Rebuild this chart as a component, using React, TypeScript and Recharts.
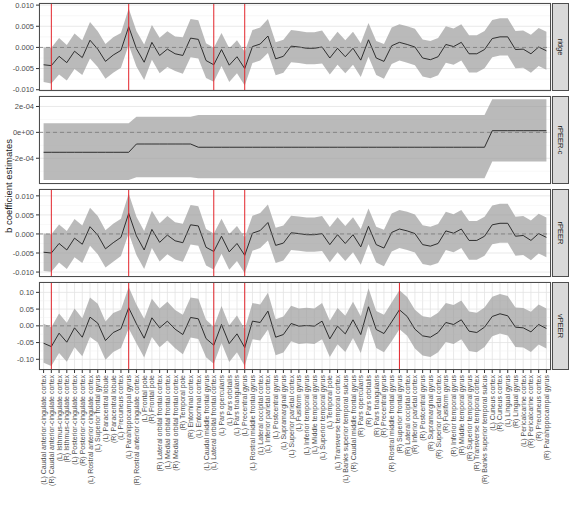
import {
  ComposedChart,
  Area,
  Line,
  XAxis,
  YAxis,
  CartesianGrid,
  ReferenceLine,
} from "recharts";

const FONT = "'Liberation Sans', Arial, Helvetica, sans-serif";
const W = 574;
const H = 506;
const PLOT_L = 39;
const PLOT_R = 551;
const PANEL_H = 88;

// Desikan regions in plotting order
const regions = [
  "(L) Caudal anterior-cingulate cortex",
  "(R) Caudal anterior-cingulate cortex",
  "(L) Isthmus-cingulate cortex",
  "(R) Isthmus-cingulate cortex",
  "(L) Posterior-cingulate cortex",
  "(R) Posterior-cingulate cortex",
  "(L) Rostral anterior cingulate cortex",
  "(L) Superior frontal gyrus",
  "(L) Paracentral lobule",
  "(R) Paracentral lobule",
  "(L) Precuneus cortex",
  "(L) Parahippocampal gyrus",
  "(R) Rostral anterior cingulate cortex",
  "(L) Frontal pole",
  "(R) Frontal pole",
  "(R) Lateral orbital frontal cortex",
  "(L) Medial orbital frontal cortex",
  "(R) Medial orbital frontal cortex",
  "(R) Temporal pole",
  "(R) Entorhinal cortex",
  "(L) Entorhinal cortex",
  "(L) Caudal middle frontal gyrus",
  "(L) Lateral orbital frontal cortex",
  "(L) Pars opercularis",
  "(L) Pars orbitalis",
  "(L) Pars triangularis",
  "(L) Precentral gyrus",
  "(L) Rostral middle frontal gyrus",
  "(L) Lateral occipital cortex",
  "(L) Inferior parietal cortex",
  "(L) Postcentral gyrus",
  "(L) Supramarginal gyrus",
  "(L) Superior parietal cortex",
  "(L) Fusiform gyrus",
  "(L) Inferior temporal gyrus",
  "(L) Middle temporal gyrus",
  "(L) Superior temporal gyrus",
  "(L) Temporal pole",
  "(L) Transverse temporal cortex",
  "(L) Banks superior temporal sulcus",
  "(R) Caudal middle frontal gyrus",
  "(R) Pars opercularis",
  "(R) Pars orbitalis",
  "(R) Pars triangularis",
  "(R) Precentral gyrus",
  "(R) Rostral middle frontal gyrus",
  "(R) Superior frontal gyrus",
  "(R) Lateral occipital cortex",
  "(R) Inferior parietal cortex",
  "(R) Postcentral gyrus",
  "(R) Supramarginal gyrus",
  "(R) Superior parietal cortex",
  "(R) Fusiform gyrus",
  "(R) Inferior temporal gyrus",
  "(R) Middle temporal gyrus",
  "(R) Superior temporal gyrus",
  "(R) Transverse temporal cortex",
  "(R) Banks superior temporal sulcus",
  "(L) Cuneus cortex",
  "(R) Cuneus cortex",
  "(L) Lingual gyrus",
  "(R) Lingual gyrus",
  "(L) Pericalcarine cortex",
  "(R) Pericalcarine cortex",
  "(R) Precuneus cortex",
  "(R) Parahippocampal gyrus",
];

// ridge: estimate and half-width of the interval
const ridgeEst = [
  -0.0041, -0.0043, -0.0021, -0.0036, -0.0009, -0.0024, 0.0017, -0.0004, -0.0033, -0.0018,
  -0.0007, 0.0049, -0.0003, -0.0035, 0.0012, -0.0019, -0.0004, -0.0015, -0.0019, 0.0022,
  0.0019, -0.0031, -0.0041, -0.0005, -0.0042, -0.0022, -0.005, 0.0002, 0.0008, 0.0027,
  -0.0027, -0.0021, 0.0003, 0.0001, -0.0002, -0.0002, 0.0001, -0.0025, -0.0002, -0.0022,
  -0.0002, -0.003, 0.0018, -0.0025, -0.0033, 0.0004, 0.0012, 0.0007, 0.0001, -0.0025,
  -0.0029, -0.0022, 0.0007, 0.0002, 0.0012, -0.0015, -0.0015, -0.0005, 0.0021, 0.0025,
  0.0025, -0.0005, -0.0004, -0.0015, 0.0001, -0.0008,
];
const ridgeHalf = [
  0.0041, 0.0042, 0.0043, 0.0042, 0.0042, 0.0041, 0.0043, 0.0042, 0.0041, 0.0042,
  0.0041, 0.0043, 0.0042, 0.0042, 0.0041, 0.0042, 0.0042, 0.0041, 0.0043, 0.0045,
  0.0045, 0.0041, 0.004, 0.0039, 0.004, 0.0039, 0.004, 0.0039, 0.0039, 0.004,
  0.0039, 0.0039, 0.0038, 0.0038, 0.0038, 0.0038, 0.0039, 0.0039, 0.0039, 0.0039,
  0.0039, 0.004, 0.004, 0.004, 0.0041, 0.0043, 0.0043, 0.0043, 0.0043, 0.0044,
  0.0044, 0.0044, 0.0043, 0.0043, 0.0043, 0.0044, 0.0044, 0.0044, 0.0044, 0.0044,
  0.0044, 0.0044, 0.0044, 0.0045, 0.0045, 0.0045,
];

// rPEER-c: piecewise estimate with lower / upper interval bounds
const rpeercEst = [
  -1.54e-4, -1.54e-4, -1.54e-4, -1.54e-4, -1.54e-4, -1.54e-4, -1.54e-4, -1.54e-4, -1.54e-4, -1.54e-4,
  -1.54e-4, -1.54e-4, -0.9e-4, -0.9e-4, -0.9e-4, -0.9e-4, -0.9e-4, -0.9e-4, -0.9e-4, -0.9e-4,
  -1.15e-4, -1.15e-4, -1.15e-4, -1.15e-4, -1.15e-4, -1.15e-4, -1.15e-4, -1.15e-4, -1.15e-4, -1.15e-4,
  -1.15e-4, -1.15e-4, -1.15e-4, -1.15e-4, -1.15e-4, -1.15e-4, -1.15e-4, -1.15e-4, -1.15e-4, -1.15e-4,
  -1.15e-4, -1.15e-4, -1.15e-4, -1.15e-4, -1.15e-4, -1.15e-4, -1.15e-4, -1.15e-4, -1.15e-4, -1.15e-4,
  -1.15e-4, -1.15e-4, -1.15e-4, -1.15e-4, -1.15e-4, -1.15e-4, -1.15e-4, -1.15e-4, 0.13e-4, 0.13e-4,
  0.13e-4, 0.13e-4, 0.13e-4, 0.13e-4, 0.13e-4, 0.13e-4,
];
const rpeercLo = [
  -3.68e-4, -3.68e-4, -3.68e-4, -3.68e-4, -3.68e-4, -3.68e-4, -3.68e-4, -3.68e-4, -3.68e-4, -3.68e-4,
  -3.68e-4, -3.68e-4, -3.47e-4, -3.47e-4, -3.47e-4, -3.47e-4, -3.47e-4, -3.47e-4, -3.47e-4, -3.47e-4,
  -3.55e-4, -3.55e-4, -3.55e-4, -3.55e-4, -3.55e-4, -3.55e-4, -3.55e-4, -3.55e-4, -3.55e-4, -3.55e-4,
  -3.55e-4, -3.55e-4, -3.55e-4, -3.55e-4, -3.55e-4, -3.55e-4, -3.55e-4, -3.55e-4, -3.55e-4, -3.55e-4,
  -3.55e-4, -3.55e-4, -3.55e-4, -3.55e-4, -3.55e-4, -3.55e-4, -3.55e-4, -3.55e-4, -3.55e-4, -3.55e-4,
  -3.55e-4, -3.55e-4, -3.55e-4, -3.55e-4, -3.55e-4, -3.55e-4, -3.55e-4, -3.55e-4, -2.26e-4, -2.26e-4,
  -2.26e-4, -2.26e-4, -2.26e-4, -2.26e-4, -2.26e-4, -2.26e-4,
];
const rpeercHi = [
  0.7e-4, 0.7e-4, 0.7e-4, 0.7e-4, 0.7e-4, 0.7e-4, 0.7e-4, 0.7e-4, 0.7e-4, 0.7e-4,
  0.7e-4, 0.7e-4, 1.21e-4, 1.21e-4, 1.21e-4, 1.21e-4, 1.21e-4, 1.21e-4, 1.21e-4, 1.21e-4,
  1.34e-4, 1.34e-4, 1.34e-4, 1.34e-4, 1.34e-4, 1.34e-4, 1.34e-4, 1.34e-4, 1.34e-4, 1.34e-4,
  1.34e-4, 1.34e-4, 1.34e-4, 1.34e-4, 1.34e-4, 1.34e-4, 1.34e-4, 1.34e-4, 1.34e-4, 1.34e-4,
  1.34e-4, 1.34e-4, 1.34e-4, 1.34e-4, 1.34e-4, 1.34e-4, 1.34e-4, 1.34e-4, 1.34e-4, 1.34e-4,
  1.34e-4, 1.34e-4, 1.34e-4, 1.34e-4, 1.34e-4, 1.34e-4, 1.34e-4, 1.34e-4, 2.56e-4, 2.56e-4,
  2.56e-4, 2.56e-4, 2.56e-4, 2.56e-4, 2.56e-4, 2.56e-4,
];

// rPEER
const rpeerEst = [
  -0.0048, -0.005, -0.0025, -0.0042, -0.0011, -0.0027, 0.0019, -0.0003, -0.0039, -0.0023,
  -0.0009, 0.0054, -0.0005, -0.0042, 0.0012, -0.0022, -0.0003, -0.0018, -0.0023, 0.0024,
  0.0021, -0.0035, -0.0046, -0.0006, -0.0047, -0.0025, -0.0056, 0.0002, 0.0009, 0.003,
  -0.003, -0.0024, 0.0003, 0.0001, -0.0002, -0.0002, 0.0001, -0.0028, -0.0002, -0.0025,
  -0.0002, -0.0034, 0.002, -0.0028, -0.0037, 0.0004, 0.0013, 0.0008, 0.0001, -0.0028,
  -0.0032, -0.0025, 0.0008, 0.0002, 0.0013, -0.0017, -0.0017, -0.0006, 0.0024, 0.0028,
  0.0028, -0.0006, -0.0004, -0.0017, 0.0001, -0.0009,
];
const rpeerHalf = [
  0.0049, 0.0049, 0.005, 0.005, 0.005, 0.0049, 0.005, 0.005, 0.0049, 0.005,
  0.0049, 0.0052, 0.005, 0.005, 0.0049, 0.005, 0.005, 0.0049, 0.005, 0.0052,
  0.0052, 0.0048, 0.0047, 0.0046, 0.0047, 0.0046, 0.0047, 0.0046, 0.0046, 0.0047,
  0.0046, 0.0046, 0.0045, 0.0045, 0.0045, 0.0045, 0.0046, 0.0046, 0.0046, 0.0046,
  0.0046, 0.0047, 0.0047, 0.0047, 0.0048, 0.005, 0.005, 0.005, 0.005, 0.0051,
  0.0051, 0.0051, 0.005, 0.005, 0.005, 0.0051, 0.0051, 0.0051, 0.0051, 0.0051,
  0.0051, 0.0051, 0.0051, 0.0052, 0.0052, 0.0052,
];

// vPEER
const vpeerEst = [
  -0.052, -0.062, -0.022, -0.049, -0.006, -0.034, 0.026, 0.008, -0.044, -0.02,
  -0.009, 0.054, 0.006, -0.037, 0.024, -0.006, 0.014, -0.01, -0.026, 0.025,
  0.021, -0.038, -0.058, 0.004, -0.053, -0.024, -0.065, 0.014, 0.01, 0.044,
  -0.034, -0.026, 0.007, -0.001, 0.001, -0.001, 0.014, -0.039, -0.001, -0.024,
  0.018, -0.026, 0.057, -0.011, -0.023, 0.012, 0.048, 0.028, -0.01, -0.03,
  -0.034, -0.02, 0.01, 0.004, 0.018, -0.016, -0.02, -0.004, 0.028, 0.036,
  0.03, -0.004, -0.006, -0.018, 0.004, -0.008,
];
const vpeerHalf = [
  0.058, 0.058, 0.059, 0.058, 0.058, 0.057, 0.059, 0.058, 0.057, 0.058,
  0.057, 0.062, 0.058, 0.058, 0.057, 0.058, 0.058, 0.057, 0.059, 0.06,
  0.06, 0.056, 0.055, 0.055, 0.055, 0.055, 0.055, 0.054, 0.054, 0.055,
  0.054, 0.054, 0.053, 0.053, 0.053, 0.053, 0.054, 0.054, 0.054, 0.054,
  0.054, 0.055, 0.055, 0.055, 0.056, 0.058, 0.058, 0.058, 0.058, 0.059,
  0.059, 0.059, 0.058, 0.058, 0.058, 0.059, 0.059, 0.059, 0.059, 0.059,
  0.059, 0.059, 0.059, 0.06, 0.06, 0.06,
];

// regions marked with a red vertical line
const ridgeMarks = [
  "(R) Caudal anterior-cingulate cortex",
  "(L) Parahippocampal gyrus",
  "(L) Lateral orbital frontal cortex",
  "(L) Precentral gyrus",
];
const rpeercMarks: string[] = [];
const rpeerMarks = ridgeMarks;
const vpeerMarks = [...ridgeMarks, "(R) Superior frontal gyrus"];

// axis breaks
const smallTicks = [-0.01, -0.005, 0, 0.005, 0.01];
const smallMinor = [-0.0075, -0.0025, 0.0025, 0.0075];
const tinyTicks = [-2e-4, 0, 2e-4];
const tinyMinor = [-3e-4, -1e-4, 1e-4];
const vTicks = [-0.1, -0.05, 0, 0.05, 0.1];
const vMinor = [-0.075, -0.025, 0.025, 0.075];

type Row = { region: string; est: number; band: [number, number] };

const fromHalf = (est: number[], half: number[]): Row[] =>
  regions.map((region, i) => ({
    region,
    est: est[i],
    band: [est[i] - half[i], est[i] + half[i]],
  }));

const fromBounds = (est: number[], lo: number[], hi: number[]): Row[] =>
  regions.map((region, i) => ({ region, est: est[i], band: [lo[i], hi[i]] }));

const sci = (v: number) => {
  if (v === 0) return "0e+00";
  const [m, e] = v.toExponential(0).split("e");
  const n = Number(e);
  return `${m}e${n < 0 ? "-" : "+"}${String(Math.abs(n)).padStart(2, "0")}`;
};

type PanelSpec = {
  label: string;
  top: number;
  rows: Row[];
  domain: [number, number];
  ticks: number[];
  minor: number[];
  fmt: (v: number) => string;
  marks: string[];
};

const panels: PanelSpec[] = [
  {
    label: "ridge",
    top: 3,
    rows: fromHalf(ridgeEst, ridgeHalf),
    domain: [-0.0103, 0.0105],
    ticks: smallTicks,
    minor: smallMinor,
    fmt: (v) => v.toFixed(3),
    marks: ridgeMarks,
  },
  {
    label: "rPEER-c",
    top: 96,
    rows: fromBounds(rpeercEst, rpeercLo, rpeercHi),
    domain: [-3.99e-4, 2.81e-4],
    ticks: tinyTicks,
    minor: tinyMinor,
    fmt: sci,
    marks: rpeercMarks,
  },
  {
    label: "rPEER",
    top: 189,
    rows: fromHalf(rpeerEst, rpeerHalf),
    domain: [-0.0113, 0.0118],
    ticks: smallTicks,
    minor: smallMinor,
    fmt: (v) => v.toFixed(3),
    marks: rpeerMarks,
  },
  {
    label: "vPEER",
    top: 282,
    rows: fromHalf(vpeerEst, vpeerHalf),
    domain: [-0.132, 0.131],
    ticks: vTicks,
    minor: vMinor,
    fmt: (v) => v.toFixed(2),
    marks: vpeerMarks,
  },
];

const RegionTick = (props: any) => {
  const { x, y, payload } = props;
  return (
    <text
      x={x}
      y={y}
      transform={`rotate(-90, ${x}, ${y})`}
      textAnchor="end"
      dominantBaseline="central"
      fontSize={7}
      fontFamily={FONT}
      fill="#4d4d4d"
    >
      {payload.value}
    </text>
  );
};

function Panel({ spec, last }: { spec: PanelSpec; last: boolean }) {
  const pad = 6;
  const below = last ? H - (spec.top + PANEL_H) : 4;
  return (
    <div style={{ position: "absolute", left: 0, top: spec.top - pad }}>
      <ComposedChart
        width={W}
        height={pad + PANEL_H + below}
        data={spec.rows}
        margin={{ top: pad, right: W - PLOT_R, bottom: last ? 0 : below, left: 0 }}
      >
        <CartesianGrid stroke="#e3e3e3" strokeWidth={0.8} />
        <CartesianGrid
          stroke="#f1f1f1"
          strokeWidth={0.5}
          vertical={false}
          horizontalValues={spec.minor}
        />
        <XAxis
          dataKey="region"
          type="category"
          scale="point"
          padding={{ left: 4.6, right: 4.6 }}
          interval={0}
          hide={!last}
          height={last ? below : 0}
          tick={last ? RegionTick : false}
          tickSize={3}
          tickMargin={2}
          tickLine={{ stroke: "#333" }}
          axisLine={false}
        />
        <YAxis
          width={PLOT_L}
          domain={spec.domain}
          ticks={spec.ticks}
          allowDataOverflow
          interval={0}
          tickFormatter={spec.fmt}
          tick={{ fontSize: 7.5, fill: "#4d4d4d", fontFamily: FONT }}
          tickSize={3}
          tickMargin={2}
          tickLine={{ stroke: "#333" }}
          axisLine={false}
        />
        <Area
          dataKey="band"
          type="linear"
          stroke="none"
          fill="#999999"
          fillOpacity={0.68}
          isAnimationActive={false}
        />
        <Line
          dataKey="est"
          type="linear"
          stroke="#1f1f1f"
          strokeWidth={0.9}
          dot={false}
          isAnimationActive={false}
        />
        <ReferenceLine y={0} stroke="#7a7a7a" strokeDasharray="4 3" strokeWidth={0.8} />
        {spec.marks.map((m) => (
          <ReferenceLine key={m} x={m} stroke="#e3242b" strokeWidth={1} />
        ))}
      </ComposedChart>
    </div>
  );
}

export default function App() {
  return (
    <div
      style={{
        position: "absolute",
        left: 0,
        top: 0,
        width: W,
        height: H,
        background: "#fff",
        fontFamily: FONT,
      }}
    >
      {panels.map((p, i) => (
        <Panel key={p.label} spec={p} last={i === panels.length - 1} />
      ))}
      <svg
        width={W}
        height={H}
        style={{ position: "absolute", left: 0, top: 0, pointerEvents: "none" }}
      >
        {panels.map((p) => (
          <g key={p.label}>
            <rect
              x={PLOT_L + 0.5}
              y={p.top + 0.5}
              width={PLOT_R - PLOT_L - 1}
              height={PANEL_H - 1}
              fill="none"
              stroke="#4d4d4d"
              strokeWidth={1}
            />
            <rect
              x={PLOT_R + 1.5}
              y={p.top + 0.5}
              width={16}
              height={PANEL_H - 1}
              fill="#d9d9d9"
              stroke="#4d4d4d"
              strokeWidth={1}
            />
            <text
              transform={`translate(${PLOT_R + 9.5}, ${p.top + PANEL_H / 2}) rotate(90)`}
              textAnchor="middle"
              dominantBaseline="central"
              fontSize={7.5}
              fontFamily={FONT}
              fill="#1a1a1a"
            >
              {p.label}
            </text>
          </g>
        ))}
        <text
          transform="translate(8, 186) rotate(-90)"
          textAnchor="middle"
          dominantBaseline="central"
          fontSize={9.5}
          fontFamily={FONT}
          fill="#1a1a1a"
        >
          b coefficient estimates
        </text>
      </svg>
    </div>
  );
}
